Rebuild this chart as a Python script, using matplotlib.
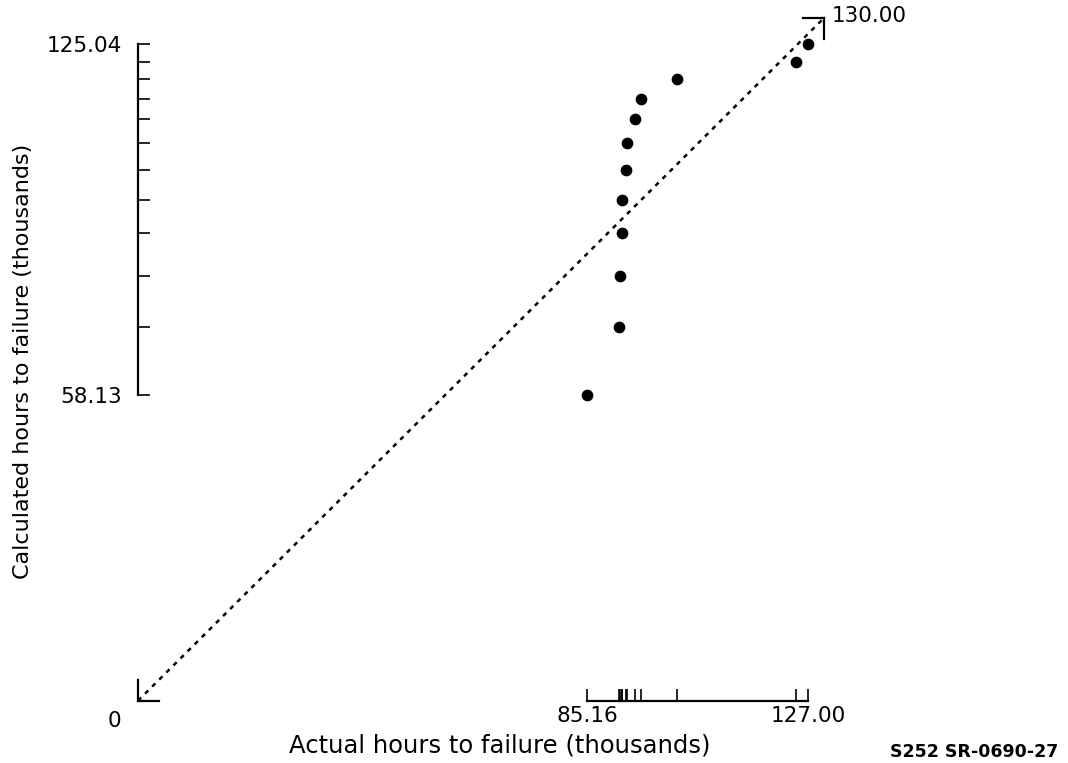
import matplotlib
matplotlib.use("Agg")
import matplotlib.pyplot as plt

# Data (thousands of hours)
actual = [85.16, 91.2, 91.3, 91.7, 91.8, 92.5, 92.7, 94.2, 95.3, 102.1, 124.6, 127.00]
calculated = [58.13, 71.1, 80.8, 89.0, 95.4, 101.1, 106.2, 110.7, 114.6, 118.4, 121.7, 125.04]
diag_range = [0.0, 130.00]
x_label = "Actual hours to failure (thousands)"
y_label = "Calculated hours to failure (thousands)"
code_text = "S252 SR-0690-27"

plt.rcParams['font.family'] = ['DejaVu Sans']

fig = plt.figure(figsize=(10.68, 7.63), dpi=100)
W, H = 1068, 763
# data (0,0) -> px (138, 700.7); (130,130) -> px (824, 18)
ax = fig.add_axes([138 / W, (H - 700.7) / H, 686 / W, 682.7 / H])
ax.set_xlim(diag_range)
ax.set_ylim(diag_range)

for s in ("top", "right"):
    ax.spines[s].set_visible(False)
for s in ("left", "bottom"):
    ax.spines[s].set_linewidth(1.6)
    ax.spines[s].set_color("black")
ax.spines["left"].set_bounds(min(calculated), max(calculated))
ax.spines["bottom"].set_bounds(min(actual), max(actual))

ax.set_yticks(calculated)
ax.set_yticklabels([f"{v:.2f}" if i in (0, len(calculated) - 1) else ""
                    for i, v in enumerate(calculated)])
ax.set_xticks(actual)
ax.set_xticklabels([f"{v:.2f}" if i in (0, len(actual) - 1) else ""
                    for i, v in enumerate(actual)])
ax.tick_params(axis="y", direction="in", length=8.6, width=1.2, pad=11.5,
               labelsize=15.5)
ax.tick_params(axis="x", direction="in", length=8.6, width=1.2, pad=4,
               labelsize=15.5)

# diagonal dotted reference line
ax.plot(diag_range, diag_range, color="black", lw=1.8,
        linestyle=(0, (1.8, 2.2)), clip_on=False)

# small corner markers at origin and at (130,130)
lo, hi = diag_range
seg = 4.0
for xs, ys in (([lo, lo], [lo, lo + seg]), ([lo, lo + seg], [lo, lo]),
               ([hi - seg, hi], [hi, hi]), ([hi, hi], [hi - seg, hi])):
    ax.plot(xs, ys, color="black", lw=1.6, clip_on=False,
            solid_capstyle="projecting")

# data points
ax.scatter(actual, calculated, s=55, color="black", zorder=3, clip_on=False)

# labels
ax.text(hi + 1.5, hi + 0.3, f"{hi:.2f}", fontsize=15.5, ha="left", va="center")
fig.text(114 / W, 1 - 721 / H, f"{lo:.0f}", fontsize=15.5, ha="center", va="center")
fig.text(500 / W, 1 - 746 / H, x_label, fontsize=17.5, ha="center", va="center")
fig.text(22.7 / W, 1 - 361.5 / H, y_label, fontsize=16, ha="center", va="center",
         rotation=90)
fig.text(1058 / W, 1 - 752 / H, code_text, fontsize=12.5, fontweight="bold",
         ha="right", va="center")

fig.savefig("out.png", dpi=100)
